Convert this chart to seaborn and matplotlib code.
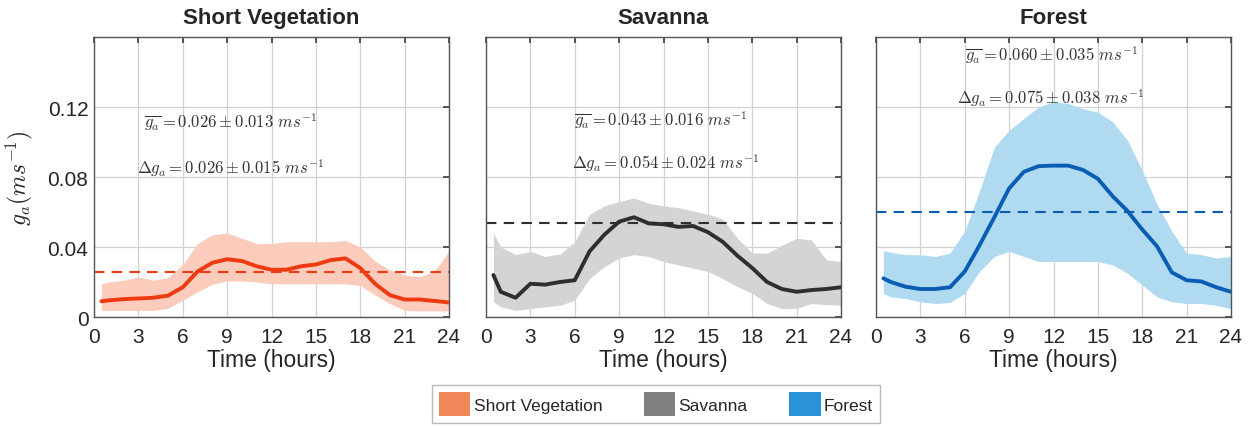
import numpy as np
import pandas as pd
import seaborn as sns
import matplotlib
matplotlib.use("Agg")
import matplotlib.pyplot as plt
from matplotlib.patches import Patch

# Diurnal cycle of aerodynamic conductance (hour of day)
hours = [0.5, 1, 2, 3, 4, 5, 6, 7, 8, 9, 10, 11, 12,
         13, 14, 15, 16, 17, 18, 19, 20, 21, 22, 23, 24]

short_mean = [0.0090, 0.0095, 0.0102, 0.0106, 0.0110, 0.0122, 0.0170, 0.0260, 0.0310,
              0.0330, 0.0320, 0.0290, 0.0270, 0.0270, 0.0290, 0.0300, 0.0325, 0.0335,
              0.0280, 0.0190, 0.0125, 0.0100, 0.0100, 0.0092, 0.0083]
short_upper = [0.019, 0.020, 0.021, 0.023, 0.021, 0.0225, 0.030, 0.042, 0.047, 0.048,
               0.045, 0.042, 0.042, 0.043, 0.043, 0.043, 0.043, 0.0437, 0.040, 0.032,
               0.027, 0.024, 0.023, 0.026, 0.0375]
short_lower = [0.0038, 0.0038, 0.0038, 0.0038, 0.0038, 0.0050, 0.0096, 0.0144, 0.0187,
               0.0206, 0.0206, 0.0200, 0.0190, 0.0190, 0.0190, 0.0190, 0.0190, 0.0190,
               0.0180, 0.0125, 0.0077, 0.0038, 0.0035, 0.0035, 0.0035]

savanna_mean = [0.0240, 0.0144, 0.0110, 0.0190, 0.0185, 0.0200, 0.0210, 0.0375, 0.0470,
                0.0545, 0.0570, 0.0535, 0.0530, 0.0515, 0.0520, 0.0485, 0.0430, 0.0350,
                0.0280, 0.0200, 0.0160, 0.0144, 0.0154, 0.0160, 0.0170]
savanna_upper = [0.048, 0.040, 0.0356, 0.0375, 0.0346, 0.036, 0.043, 0.0587, 0.0635,
                 0.066, 0.068, 0.065, 0.0635, 0.0625, 0.0606, 0.0587, 0.056, 0.045,
                 0.0365, 0.0365, 0.041, 0.045, 0.044, 0.0327, 0.0317]
savanna_lower = [0.0087, 0.0058, 0.0038, 0.0048, 0.0058, 0.0067, 0.0096, 0.022, 0.0288,
                 0.0337, 0.0356, 0.0346, 0.0317, 0.0298, 0.0279, 0.026, 0.022, 0.0173,
                 0.0135, 0.0077, 0.0048, 0.005, 0.0077, 0.0071, 0.0067]

forest_mean = [0.0221, 0.0200, 0.0173, 0.0160, 0.0160, 0.0170, 0.0260, 0.0410, 0.0570,
               0.0735, 0.0830, 0.0862, 0.0865, 0.0865, 0.0840, 0.0790, 0.0690, 0.0606,
               0.0500, 0.0404, 0.0255, 0.0210, 0.0203, 0.0170, 0.0144]
forest_upper = [0.0379, 0.0370, 0.0356, 0.0356, 0.0346, 0.0365, 0.049, 0.072, 0.097,
                0.1067, 0.1135, 0.120, 0.123, 0.122, 0.119, 0.117, 0.1115, 0.101,
                0.0837, 0.0644, 0.049, 0.0365, 0.0356, 0.0337, 0.0346]
forest_lower = [0.0135, 0.0115, 0.0106, 0.0087, 0.0077, 0.0083, 0.0135, 0.026, 0.0346,
                0.0375, 0.0346, 0.0317, 0.0317, 0.0317, 0.0317, 0.0317, 0.0298, 0.025,
                0.0183, 0.0115, 0.0087, 0.0077, 0.0077, 0.0067, 0.0048]

titles = ["Short Vegetation", "Savanna", "Forest"]
ref_levels = [0.026, 0.054, 0.060]
mean_text = [r"$\overline{g_a} = 0.026 \pm 0.013\ ms^{-1}$",
             r"$\overline{g_a} = 0.043 \pm 0.016\ ms^{-1}$",
             r"$\overline{g_a} = 0.060 \pm 0.035\ ms^{-1}$"]
delta_text = [r"$\Delta g_a = 0.026 \pm 0.015\ ms^{-1}$",
              r"$\Delta g_a = 0.054 \pm 0.024\ ms^{-1}$",
              r"$\Delta g_a = 0.075 \pm 0.038\ ms^{-1}$"]
x_ticks = [0, 3, 6, 9, 12, 15, 18, 21, 24]
y_ticks = [0, 0.04, 0.08, 0.12]
y_tick_labels = ["0", "0.04", "0.08", "0.12"]

line_colors = ["#EE3A10", "#2E2E2E", "#0A5DB5"]
band_colors = ["#FBCBBB", "#D4D4D4", "#B0DAF0"]
legend_colors = ["#F0885A", "#808080", "#2A93D5"]
text_pos = [((9.25, 0.112), (9.25, 0.0857)),
            ((11.8, 0.113), (12.1, 0.0886)),
            ((11.9, 0.150), (11.8, 0.1257))]

sns.set_theme(style="whitegrid")
plt.rcParams["font.family"] = ["Liberation Sans", "DejaVu Sans"]
plt.rcParams["mathtext.fontset"] = "cm"

frames = []
for name, m, lo, hi in zip(titles,
                           [short_mean, savanna_mean, forest_mean],
                           [short_lower, savanna_lower, forest_lower],
                           [short_upper, savanna_upper, forest_upper]):
    frames.append(pd.DataFrame({"hour": hours, "mean": m, "lower": lo,
                                "upper": hi, "biome": name}))

fig = plt.figure(figsize=(12.52, 4.27), dpi=100)
lefts = [94 / 1252, 486 / 1252, 876 / 1252]
axes = [fig.add_axes([l, 1 - 318 / 427, 355 / 1252, 280 / 427]) for l in lefts]

for i, (ax, df) in enumerate(zip(axes, frames)):
    ax.set_facecolor("white")
    ax.fill_between(df["hour"], df["lower"], df["upper"], color=band_colors[i],
                    linewidth=0, zorder=1)
    sns.lineplot(data=df, x="hour", y="mean", ax=ax, color=line_colors[i],
                 linewidth=2.8, zorder=3)
    ax.axhline(ref_levels[i], color=line_colors[i], linestyle=(0, (5, 3.5)),
               linewidth=1.5, zorder=2)
    ax.set_xlim(0, 24)
    ax.set_ylim(0, 0.16)
    ax.set_xticks(x_ticks)
    ax.set_xticklabels([str(t) for t in x_ticks], fontsize=15)
    ax.set_yticks(y_ticks)
    if i == 0:
        ax.set_yticklabels(y_tick_labels, fontsize=15)
        ax.set_ylabel(r"$g_a(ms^{-1})$", fontsize=17, labelpad=9)
    else:
        ax.set_yticklabels([])
        ax.set_ylabel("")
    ax.set_xlabel("Time (hours)", fontsize=16.5, labelpad=2)
    ax.set_title(titles[i], fontsize=16, fontweight="bold", pad=10)
    ax.grid(True, color="#D2D2D2", linewidth=0.9)
    ax.tick_params(axis="both", direction="in", length=4, color="#444444",
                   top=True, right=True)
    ax.tick_params(axis="x", pad=7)
    ax.tick_params(axis="y", pad=4)
    for s in ax.spines.values():
        s.set_color("#555555")
        s.set_linewidth(1.0)
    (x1, y1), (x2, y2) = text_pos[i]
    ax.text(x1, y1, mean_text[i], ha="center", va="center", fontsize=12,
            color="#333333", zorder=4)
    ax.text(x2, y2, delta_text[i], ha="center", va="center", fontsize=12,
            color="#333333", zorder=4)

handles = [Patch(facecolor=c, edgecolor="none") for c in legend_colors]
leg = fig.legend(handles, titles, loc="center", bbox_to_anchor=(656 / 1252, 1 - 405 / 427),
                 ncol=3, fontsize=12.5, frameon=True, fancybox=False,
                 handlelength=1.8, handleheight=1.7, columnspacing=2.4,
                 handletextpad=0.2, borderpad=0.4, borderaxespad=0)
leg.get_frame().set_edgecolor("#AAAAAA")
leg.get_frame().set_linewidth(1.0)

fig.savefig("out.png", dpi=100, facecolor="white")
